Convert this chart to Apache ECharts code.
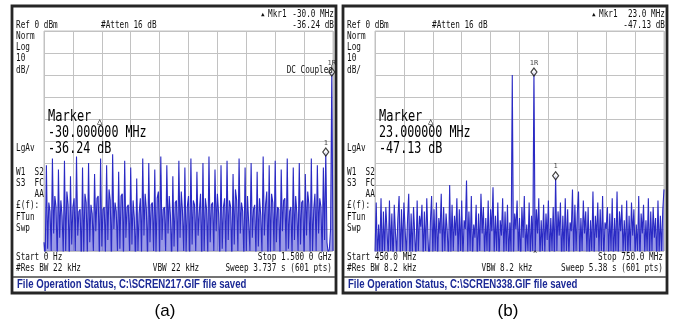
<!DOCTYPE html>
<html>
<head>
<meta charset="utf-8">
<script src="https://cdn.jsdelivr.net/npm/echarts@6/dist/echarts.min.js"></script>
<style>
    html, body { margin: 0; padding: 0; background: #fff; }
    #main { width: 678px; height: 322px; }
</style>
</head>
<body>
<div id="main"></div>
<script>
// (a) span 0 Hz .. 1.5 GHz, levels in dBm
var startA = 0, stepA = 6.25, stopA = 1500;
var traceA = [
    -96, -103, -61, -99, -78,  -82, -100, -58, -92, -75,  -80, -105, -63, -94, -77,
    -84, -101, -59, -100, -73, -79, -104, -66, -97, -80,  -76, -100, -57, -93, -82,
    -81, -106, -62, -101, -74, -78, -102, -60, -96, -79,  -83, -100, -65, -91, -76,
    -75, -104, -58, -98, -81,  -80, -101, -61, -95, -72,  -77, -105, -56, -90, -78,
    -82, -100, -64, -99, -75,  -74, -103, -59, -94, -80,  -79, -100, -62, -97, -77,
    -85, -106, -67, -100, -83, -76, -101, -58, -93, -74,  -81, -104, -60, -96, -79,
    -78, -100, -63, -102, -76, -73, -103, -57, -95, -81,  -80, -100, -61, -92, -75,
    -84, -105, -66, -98, -78,  -77, -101, -59, -94, -73,  -82, -100, -62, -101, -80,
    -75, -104, -58, -97, -77,  -79, -100, -64, -93, -82,  -74, -106, -60, -100, -76,
    -81, -102, -57, -96, -79,  -78, -100, -63, -91, -74,  -83, -103, -61, -99, -80,
    -76, -101, -59, -95, -77,  -80, -105, -65, -97, -72,  -77, -100, -58, -92, -78,
    -82, -104, -62, -100, -75, -75, -100, -60, -94, -81,  -79, -103, -64, -98, -76,
    -84, -101, -57, -93, -79,  -73, -106, -61, -101, -74, -78, -100, -59, -96, -80,
    -81, -104, -63, -91, -77,  -76, -100, -58, -99, -82,  -80, -102, -62, -95, -75,
    -83, -100, -60, -97, -78,  -77, -105, -65, -93, -73,  -79, -101, -58, -100, -81,
    -74, -100, -61, -92, -76,  -80, -103, -62, -95, -55,  -96, -101, -99, -90, -18.6,
    -100
];
var markerA = [[1462.5, -55]];
var refA = [[1493.75, -18.6]];

// (b) span 450 .. 750 MHz
var startB = 450, stepB = 1.25, stopB = 750;
var traceB = [
    -102, -78, -104, -88, -101, -76, -105, -82, -100, -80,
    -91, -103, -77, -100, -83, -106, -79, -92, -101, -85,
    -75, -104, -81, -100, -78, -90, -102, -86, -74, -105,
    -83, -101, -80, -93, -104, -77, -100, -84, -89, -79,
    -103, -82, -100, -76, -94, -106, -87, -75, -101, -81,
    -100, -78, -104, -85, -92, -74, -102, -80, -100, -83,
    -91, -105, -70, -101, -79, -100, -84, -93, -76, -103,
    -81, -100, -77, -104, -86, -90, -68, -101, -82, -100,
    -75, -103, -88, -94, -79, -105, -83, -100, -74, -92,
    -80, -102, -85, -100, -77, -104, -81, -91, -71, -101,
    -84, -100, -78, -105, -86, -93, -76, -102, -82, -100,
    -79, -104, -87, -101, -20, -103, -83, -90, -77, -100,
    -85, -105, -80, -94, -75, -101, -88, -100, -78, -103,
    -84, -100, -18.6, -102, -81, -92, -76, -104, -86, -100,
    -79, -101, -83, -95, -77, -103, -85, -100, -80, -104,
    -65.8, -100, -82, -93, -78, -105, -84, -101, -76, -100,
    -81, -103, -87, -91, -72, -102, -79, -100, -83, -73,
    -104, -85, -100, -77, -92, -82, -101, -80, -105, -86,
    -100, -73, -103, -84, -94, -78, -101, -81, -100, -75,
    -104, -87, -90, -80, -102, -83, -100, -76, -105, -85,
    -100, -73, -103, -82, -91, -79, -101, -86, -100, -77,
    -104, -84, -100, -78, -93, -81, -102, -88, -100, -75,
    -105, -83, -92, -79, -101, -86, -100, -76, -103, -82,
    -100, -80, -94, -85, -104, -77, -101, -84, -100, -81,
    -72
];
var markerB = [[637.5, -65.8]];
var refB = [[615, -18.6]];

var refLevel = 0, bottomLevel = -100, dbPerDiv = 10;

var MONO = '"DejaVu Sans Mono", monospace';
var INK = '#111';
var TRACE = '#2a2ac4';
var GRIDC = '#c2c2c2';

// 把 [起点, 步长, 数组] 转成 [freq, level]
function toPoints(start, step, arr) {
    return arr.map(function (v, i) { return [start + i * step, v]; });
}

// 仪器字体（等宽，横向压缩）
function txt(x, y, s, align, size, extra, sx) {
    var el = {
        type: 'text', x: x, y: y, z: 10,
        scaleX: sx || 0.77,
        style: {
            text: s, fill: INK,
            font: (size || 10) + 'px ' + MONO,
            align: align || 'left', verticalAlign: 'middle'
        }
    };
    if (extra) {
        for (var k in extra) el.style[k] = extra[k];
    }
    return el;
}

// 一个仪器屏幕的全部文字、边框
function screen(ox, o) {
    var right = ox + 322;
    var gl = ox + 32;
    var els = [
        {type: 'rect', z: 1, shape: {x: ox, y: 6, width: 324, height: 287},
            style: {fill: null, stroke: '#262626', lineWidth: 2.8}},
        {type: 'line', z: 2, shape: {x1: ox + 1, y1: 277, x2: ox + 323, y2: 277},
            style: {stroke: '#444', lineWidth: 1.5}},
        txt(right - 73, 14, '▲', 'left', 6, null, 1),
        txt(right - 66, 14, 'Mkr1', 'left'),
        txt(right, 14, o.mkrFreq, 'right'),
        txt(ox + 4, 25, 'Ref 0 dBm'),
        txt(o.attenX, 25, '#Atten 16 dB'),
        txt(right, 25, o.mkrDelta, 'right'),
        txt(ox + 4, 36, 'Norm'),
        txt(ox + 4, 47, 'Log'),
        txt(ox + 4, 58, '10'),
        txt(ox + 4, 70, 'dB/'),
        txt(ox + 4, 148, 'LgAv'),
        txt(ox + 4, 172, 'W1  S2'),
        txt(ox + 4, 183, 'S3  FC'),
        txt(ox + 4, 194, '    AA'),
        txt(ox + 4, 205, '£(f):'),
        txt(ox + 4, 217, 'FTun'),
        txt(ox + 4, 228, 'Swp'),
        txt(gl + 4, 117, 'Marker', 'left', 15, {fill: '#000'}, 0.8),
        txt(gl + 53, 122, '△', 'left', 9, {fill: '#000'}, 1),
        txt(gl + 4, 133, o.mkrLine, 'left', 15, {fill: '#000'}, 0.78),
        txt(gl + 4, 149, o.mkrDelta, 'left', 15, {fill: '#000'}, 0.78),
        txt(ox + 4, 257, o.start),
        txt(right - 2, 257, o.stop, 'right'),
        txt(ox + 4, 268, o.rbw),
        txt(o.vbwX, 268, o.vbw, 'center'),
        txt(right - 2, 268, o.sweep, 'right'),
        txt(ox + 5, 285, o.status, 'left', 10, {fill: '#1c2a96', fontWeight: 'bold'}, 0.8)
    ];
    return els;
}

var chart = echarts.init(document.getElementById('main'));

var graphics = []
    .concat(screen(12, {
        mkrFreq: '-30.0 MHz', mkrDelta: '-36.24 dB', attenX: 101,
        mkrLine: '-30.000000 MHz',
        start: 'Start 0 Hz', stop: 'Stop 1.500 0 GHz',
        rbw: '#Res BW 22 kHz', vbw: 'VBW 22 kHz', vbwX: 176,
        sweep: 'Sweep 3.737 s (601 pts)',
        status: 'File Operation Status, C:\\SCREN217.GIF file saved'
    }))
    .concat(screen(343, {
        mkrFreq: '23.0 MHz', mkrDelta: '-47.13 dB', attenX: 432,
        mkrLine: '23.000000 MHz',
        start: 'Start 450.0 MHz', stop: 'Stop 750.0 MHz',
        rbw: '#Res BW 8.2 kHz', vbw: 'VBW 8.2 kHz', vbwX: 507,
        sweep: 'Sweep 5.38 s (601 pts)',
        status: 'File Operation Status, C:\\SCREN338.GIF file saved'
    }));

graphics.push(txt(333, 70, 'DC Coupled', 'right'));
graphics.push(txt(535, 255, '^', 'center', 8));
graphics.push({type: 'text', x: 165, y: 311, style: {text: '(a)', font: '17px "Liberation Sans", Arial',
    fill: '#000', align: 'center', verticalAlign: 'middle'}});
graphics.push({type: 'text', x: 508, y: 311, style: {text: '(b)', font: '17px "Liberation Sans", Arial',
    fill: '#000', align: 'center', verticalAlign: 'middle'}});

function xAxisOf(i, min, max, interval) {
    return {
        type: 'value', gridIndex: i, min: min, max: max, interval: interval,
        axisLine: {show: false}, axisTick: {show: false}, axisLabel: {show: false},
        splitLine: {show: true, lineStyle: {color: GRIDC, width: 1}}
    };
}
function yAxisOf(i) {
    return {
        type: 'value', gridIndex: i, min: bottomLevel, max: refLevel, interval: dbPerDiv,
        axisLine: {show: false}, axisTick: {show: false}, axisLabel: {show: false},
        splitLine: {show: true, lineStyle: {color: GRIDC, width: 1}}
    };
}
function traceSeries(i, data) {
    return {
        type: 'line', xAxisIndex: i, yAxisIndex: i, data: data,
        showSymbol: false, clip: true, sampling: null, z: 3,
        lineStyle: {color: TRACE, width: 1.1},
        areaStyle: {color: '#5c5cd6', opacity: 0.62, origin: 'start'}
    };
}
function markerSeries(i, data, name) {
    return {
        type: 'scatter', xAxisIndex: i, yAxisIndex: i, data: data, z: 5,
        symbol: 'diamond', symbolSize: [6, 8],
        itemStyle: {color: '#fff', borderColor: '#111', borderWidth: 1.2},
        label: {show: true, position: 'top', distance: 1, formatter: name,
            fontSize: 7, fontFamily: MONO, color: '#111'}
    };
}

chart.setOption({
    animation: false,
    backgroundColor: '#fff',
    grid: [
        {left: 44, top: 31, width: 289, height: 220, show: true, borderColor: GRIDC, borderWidth: 1},
        {left: 375, top: 31, width: 289, height: 220, show: true, borderColor: GRIDC, borderWidth: 1}
    ],
    xAxis: [xAxisOf(0, startA, stopA, 150), xAxisOf(1, startB, stopB, 30)],
    yAxis: [yAxisOf(0), yAxisOf(1)],
    series: [
        traceSeries(0, toPoints(startA, stepA, traceA)),
        traceSeries(1, toPoints(startB, stepB, traceB)),
        markerSeries(0, markerA, '1'),
        markerSeries(0, refA, '1R'),
        markerSeries(1, markerB, '1'),
        markerSeries(1, refB, '1R')
    ],
    graphic: graphics
});
</script>
</body>
</html>
